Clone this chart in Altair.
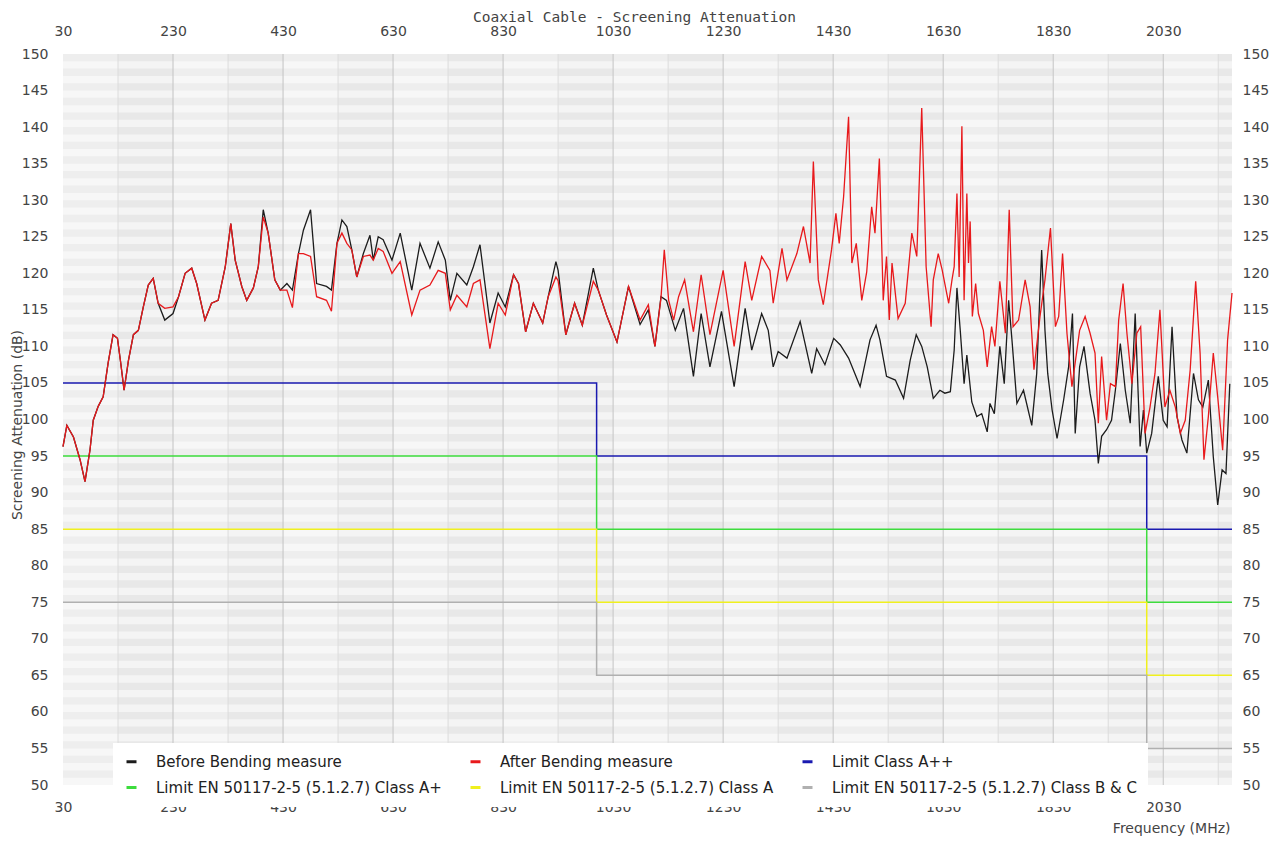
import altair as alt
import pandas as pd

title_text = "Coaxial Cable - Screening Attenuation"
x_title = "Frequency (MHz)"
y_title = "Screening Attenuation (dB)"

series_names = [
    "Before Bending measure",
    "After Bending measure",
    "Limit Class A++",
    "Limit EN 50117-2-5 (5.1.2.7) Class A+",
    "Limit EN 50117-2-5 (5.1.2.7) Class A",
    "Limit EN 50117-2-5 (5.1.2.7) Class B & C",
]
series_colors = ["#1c1c1c", "#e8191c", "#1a1ab0", "#3ddc3d", "#f0f01e", "#b0b0b0"]

before_freq = [30, 37, 49, 61, 70, 79, 85, 94, 103, 112, 121, 129, 135, 141, 149, 158, 167, 176, 185, 194,
               203, 215, 230, 240, 252, 264, 273, 288, 300, 312, 325, 335, 343, 355, 364, 376, 385, 394, 403, 415,
               425, 437, 447, 458, 467, 480, 491, 509, 518, 528, 537, 546, 555, 564, 576, 588, 594, 603, 612, 628,
               643, 664, 679, 697, 712, 725, 734, 746, 764, 776, 788, 806, 821, 834, 849, 858, 871, 885, 902, 912,
               926, 930, 944, 960, 974, 994, 1003, 1018, 1037, 1058, 1079, 1094, 1106, 1117, 1127, 1143, 1158, 1176, 1190, 1206,
               1227, 1250, 1270, 1282, 1300, 1312, 1321, 1330, 1346, 1370, 1391, 1400, 1415, 1431, 1443, 1458, 1479, 1497, 1508, 1515,
               1527, 1543, 1558, 1570, 1581, 1591, 1601, 1612, 1624, 1633, 1643, 1650, 1655, 1661, 1668, 1673, 1682, 1691, 1700, 1710,
               1715, 1723, 1733, 1741, 1749, 1755, 1764, 1776, 1791, 1800, 1809, 1815, 1820, 1828, 1837, 1849, 1858, 1865, 1870, 1878,
               1886, 1897, 1906, 1912, 1918, 1927, 1936, 1943, 1952, 1961, 1970, 1979, 1988, 1994, 2000, 2009, 2021, 2030, 2037, 2046,
               2055, 2064, 2073, 2085, 2094, 2102, 2112, 2121, 2129, 2137, 2144, 2151]
before_db = [96.3, 99.2, 97.6, 94.5, 91.5, 95.8, 99.9, 101.8, 103.1, 107.7, 111.6, 111.1, 107.7, 104.0, 108.1, 111.6, 112.2, 115.4, 118.4, 119.3,
             115.9, 113.6, 114.5, 116.8, 120.0, 120.7, 118.6, 113.6, 115.9, 116.3, 120.9, 126.8, 121.8, 118.2, 116.3, 118.0, 120.9, 128.7, 125.5, 119.1,
             117.7, 118.6, 117.7, 122.7, 125.9, 128.7, 118.6, 118.2, 117.7, 124.1, 127.3, 126.4, 123.2, 119.5, 122.7, 125.2, 121.8, 125.0, 124.6, 121.8,
             125.5, 117.7, 124.1, 120.7, 124.3, 121.8, 116.3, 120.0, 118.4, 120.9, 123.9, 113.2, 117.3, 115.4, 119.8, 118.6, 112.0, 115.9, 113.2, 116.8,
             121.6, 120.4, 111.6, 115.9, 112.9, 120.7, 117.7, 114.3, 110.6, 118.2, 113.0, 115.0, 110.0, 116.8, 116.3, 112.2, 115.2, 105.9, 114.5, 107.2,
             114.8, 104.5, 115.2, 109.5, 114.5, 112.2, 107.2, 109.3, 108.4, 113.4, 106.3, 109.7, 107.5, 111.1, 110.2, 108.4, 104.5, 110.9, 112.9, 110.9,
             105.9, 105.4, 102.9, 108.1, 111.6, 110.0, 107.2, 102.9, 104.0, 103.6, 103.8, 109.5, 118.0, 112.2, 104.9, 108.8, 102.4, 100.4, 100.8, 98.3,
             102.2, 100.8, 110.0, 104.9, 116.3, 110.9, 102.2, 104.0, 99.2, 106.3, 123.2, 112.2, 106.3, 101.3, 97.4, 102.7, 107.2, 114.5, 98.1, 107.2,
             110.0, 103.6, 99.9, 94.0, 97.7, 98.6, 99.9, 104.0, 110.4, 104.0, 99.5, 114.5, 96.3, 101.3, 95.4, 98.1, 105.9, 99.9, 99.0, 112.7,
             100.4, 97.2, 95.4, 106.3, 102.7, 101.7, 105.4, 94.9, 88.3, 93.1, 92.6, 104.9]

after_freq = [30, 37, 49, 61, 70, 79, 85, 94, 103, 112, 121, 129, 135, 141, 149, 158, 167, 176, 185, 194,
              203, 215, 230, 240, 252, 264, 273, 288, 300, 312, 325, 335, 343, 355, 364, 376, 385, 394, 403, 415,
              425, 437, 447, 458, 467, 480, 491, 509, 518, 528, 537, 546, 555, 564, 576, 588, 594, 603, 612, 628,
              643, 664, 679, 697, 712, 725, 734, 746, 764, 776, 788, 806, 821, 834, 849, 858, 871, 885, 902, 912,
              926, 930, 944, 960, 974, 994, 1003, 1018, 1037, 1058, 1079, 1094, 1106, 1117, 1123, 1131, 1140, 1149, 1160, 1176,
              1190, 1206, 1230, 1250, 1270, 1282, 1300, 1315, 1321, 1337, 1346, 1364, 1376, 1388, 1394, 1403, 1412, 1427, 1435, 1441,
              1449, 1458, 1464, 1472, 1482, 1491, 1500, 1506, 1514, 1521, 1527, 1532, 1537, 1548, 1561, 1573, 1582, 1591, 1599, 1608,
              1612, 1621, 1628, 1640, 1646, 1650, 1655, 1659, 1664, 1668, 1673, 1676, 1679, 1683, 1689, 1694, 1703, 1710, 1718, 1724,
              1733, 1743, 1750, 1757, 1767, 1779, 1788, 1795, 1806, 1815, 1825, 1834, 1840, 1847, 1855, 1864, 1878, 1888, 1897, 1906,
              1912, 1918, 1927, 1934, 1943, 1949, 1957, 1964, 1973, 1982, 1989, 1997, 2006, 2015, 2024, 2033, 2042, 2052, 2061, 2070,
              2079, 2089, 2097, 2104, 2112, 2121, 2129, 2138, 2147, 2155]
after_db = [96.3, 99.2, 97.6, 94.5, 91.5, 95.8, 99.9, 101.8, 103.1, 107.7, 111.6, 111.1, 107.7, 104.0, 108.1, 111.6, 112.2, 115.4, 118.4, 119.3,
            115.9, 115.2, 115.4, 116.8, 120.0, 120.7, 118.6, 113.6, 115.9, 116.3, 120.9, 126.8, 121.8, 118.2, 116.3, 118.0, 120.9, 127.7, 125.5, 119.1,
            117.7, 117.7, 115.3, 122.7, 122.7, 122.3, 116.8, 116.3, 114.8, 124.1, 125.5, 124.1, 123.2, 119.5, 122.3, 122.5, 121.8, 123.4, 123.0, 120.0,
            121.6, 114.3, 117.7, 118.4, 120.4, 120.0, 115.0, 117.0, 115.4, 118.6, 119.1, 109.7, 115.9, 114.3, 119.8, 118.6, 112.0, 115.9, 113.2, 116.8,
            119.5, 119.0, 111.6, 115.9, 112.9, 118.9, 117.7, 114.3, 110.6, 118.2, 113.6, 115.7, 110.0, 116.6, 123.2, 116.3, 113.6, 116.8, 119.1, 112.0,
            119.8, 111.6, 120.4, 110.0, 121.6, 116.3, 122.3, 120.4, 115.9, 123.4, 119.1, 122.7, 126.4, 121.4, 135.3, 119.1, 115.7, 123.2, 128.2, 124.1,
            130.5, 141.4, 121.4, 124.1, 116.3, 120.2, 129.1, 125.5, 135.7, 116.3, 122.3, 113.6, 121.4, 113.8, 115.9, 125.5, 122.3, 142.6, 120.9, 112.7,
            119.1, 122.7, 120.5, 115.9, 119.1, 120.9, 130.9, 119.5, 140.1, 116.3, 130.9, 121.4, 127.1, 114.1, 118.6, 114.5, 112.2, 107.2, 112.7, 110.0,
            118.9, 111.8, 128.7, 112.7, 113.6, 119.1, 115.4, 106.8, 114.1, 119.1, 126.2, 112.7, 114.1, 122.7, 111.8, 104.5, 112.2, 114.1, 111.8, 109.1,
            99.5, 108.6, 99.9, 104.9, 104.5, 113.6, 118.6, 111.8, 104.9, 111.8, 112.7, 98.1, 101.7, 106.3, 115.0, 101.7, 104.0, 101.7, 98.1, 99.9,
            106.8, 118.9, 109.1, 94.5, 100.4, 109.1, 103.1, 95.8, 110.9, 117.3]

limit_freq = [30, 1000, 2000, 2155]
limit_class_app = [105, 95, 85, 85]
limit_class_ap = [95, 85, 75, 75]
limit_class_a = [85, 75, 65, 65]
limit_class_bc = [75, 65, 55, 55]

x_ticks = list(range(30, 2031, 200))
minor_ticks = list(range(130, 2131, 200))
y_ticks = list(range(50, 151, 5))
X_MIN, X_MAX = 30, 2155
Y_MIN, Y_MAX = 50, 150

PLOT_W, PLOT_H = 1169, 731
FONT = "DejaVu Sans"
LABEL_COLOR = "#444444"

# ---------- tables ----------
measure = pd.concat([
    pd.DataFrame({"freq": before_freq, "db": before_db, "series": series_names[0]}),
    pd.DataFrame({"freq": after_freq, "db": after_db, "series": series_names[1]}),
])
limits = pd.concat([
    pd.DataFrame({"freq": limit_freq, "db": vals, "series": name})
    for name, vals in zip(series_names[2:], [limit_class_app, limit_class_ap, limit_class_a, limit_class_bc])
])
band_starts = list(range(X_MIN, X_MAX, 100))
bands = pd.DataFrame({
    "x0": band_starts,
    "x1": [min(s + 100, X_MAX) for s in band_starts],
    "fill": ["#eeeeee" if i % 2 == 0 else "#e8e8e8" for i in range(len(band_starts))],
})
stripes = pd.DataFrame({"y0": list(range(Y_MIN, Y_MAX, 2))})
stripes["y1"] = stripes["y0"] + 1
major = pd.DataFrame({"f": x_ticks[1:]})
minor = pd.DataFrame({"f": minor_ticks})

xs = alt.Scale(domain=[X_MIN, X_MAX], nice=False, zero=False)
ys = alt.Scale(domain=[Y_MIN, Y_MAX], nice=False, zero=False)
cs = alt.Scale(domain=series_names, range=series_colors)

legend = alt.Legend(
    title=None, orient="none", legendX=50, legendY=689, columns=3, direction="horizontal",
    symbolType="stroke", symbolStrokeWidth=3, symbolSize=100,
    labelFont=FONT, labelFontSize=15, labelColor="#222222", labelOffset=17, labelLimit=500,
    columnPadding=22, rowPadding=10, padding=11, fillColor="white",
)

common_axis = dict(labelFont=FONT, labelFontSize=14, labelColor=LABEL_COLOR, ticks=False,
                   domain=False, grid=False, labelFlush=False)

band_layer = alt.Chart(bands).mark_rect().encode(
    x=alt.X("x0:Q", scale=xs, axis=None), x2="x1:Q",
    y=alt.value(0), y2=alt.value(PLOT_H),
    fill=alt.Fill("fill:N", scale=None, legend=None),
)
stripe_layer = alt.Chart(stripes).mark_rect(fill="white", opacity=0.5).encode(
    y=alt.Y("y0:Q", scale=ys, axis=None), y2="y1:Q",
    x=alt.value(0), x2=alt.value(PLOT_W),
)
minor_layer = alt.Chart(minor).mark_rule(color="#dcdcdc", strokeWidth=1).encode(
    x=alt.X("f:Q", scale=xs, axis=None))
major_layer = alt.Chart(major).mark_rule(color="#c4c4c4", strokeWidth=1).encode(
    x=alt.X("f:Q", scale=xs, axis=None))

limit_layer = alt.Chart(limits).mark_line(interpolate="step-after", strokeWidth=1.5).encode(
    x=alt.X("freq:Q", scale=xs, axis=None),
    y=alt.Y("db:Q", scale=ys, axis=None),
    color=alt.Color("series:N", scale=cs, legend=legend),
    detail="series:N",
)

before_layer = alt.Chart(measure[measure["series"] == series_names[0]]).mark_line(strokeWidth=1.3).encode(
    x=alt.X("freq:Q", scale=xs, axis=alt.Axis(
        orient="bottom", values=x_ticks, format="d", labelPadding=15, title=x_title,
        titleFont=FONT, titleFontSize=14, titleFontWeight="normal", titleColor=LABEL_COLOR,
        titleX=PLOT_W - 2, titleY=43, titleAlign="right", titleBaseline="middle", **common_axis)),
    y=alt.Y("db:Q", scale=ys, axis=alt.Axis(
        orient="left", values=y_ticks, format="d", labelPadding=15, title=y_title,
        titleFont=FONT, titleFontSize=14, titleFontWeight="normal", titleColor=LABEL_COLOR,
        titleX=-46, titleY=PLOT_H / 2 + 5, titleAngle=-90, titleAlign="center", titleBaseline="middle",
        **common_axis)),
    color=alt.Color("series:N", scale=cs, legend=legend),
)
after_layer = alt.Chart(measure[measure["series"] == series_names[1]]).mark_line(strokeWidth=1.3).encode(
    x=alt.X("freq:Q", scale=xs, axis=alt.Axis(
        orient="top", values=x_ticks, format="d", labelPadding=16, title=None, **common_axis)),
    y=alt.Y("db:Q", scale=ys, axis=alt.Axis(
        orient="right", values=y_ticks, format="d", labelPadding=10, title=None, **common_axis)),
    color=alt.Color("series:N", scale=cs, legend=legend),
)

chart = alt.layer(
    band_layer, stripe_layer, minor_layer, major_layer, limit_layer, before_layer, after_layer
).resolve_axis(x="independent", y="independent").properties(
    width=PLOT_W, height=PLOT_H,
    autosize=alt.AutoSizeParams(type="none"),
    padding={"left": 55, "top": 46, "right": 45, "bottom": 56},
    title=alt.TitleParams(title_text, font="DejaVu Sans Mono", fontSize=14.5, fontWeight="normal",
                          color="#444444", anchor="middle", offset=4, dx=-13, dy=5),
).configure_view(stroke=None)

chart.save("out.html", embed_options={"renderer": "svg", "actions": False})
